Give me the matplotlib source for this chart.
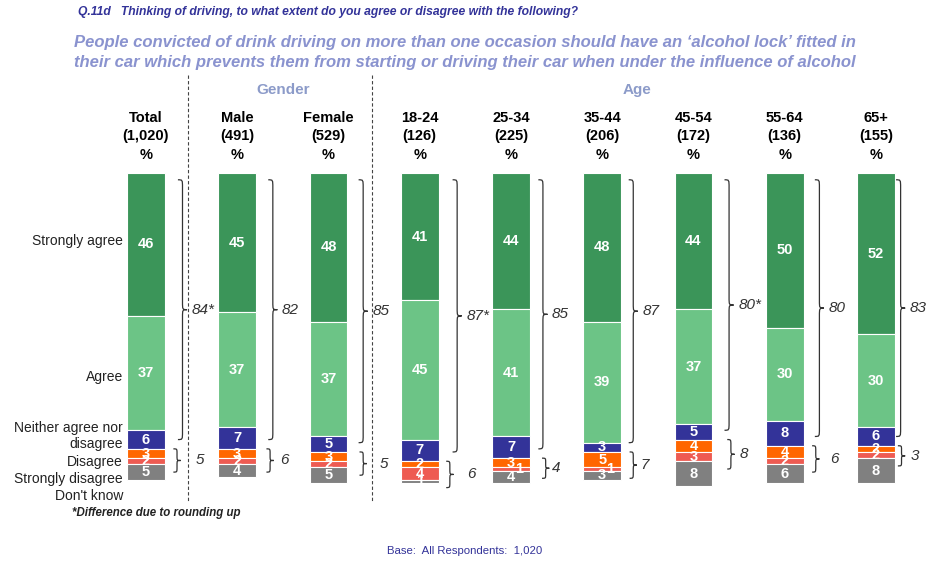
import matplotlib
matplotlib.use("Agg")
import matplotlib.pyplot as plt
from matplotlib.path import Path
from matplotlib.patches import PathPatch

plt.rcParams['font.family'] = ['Liberation Sans', 'DejaVu Sans']

groups = ['Total', 'Male', 'Female', '18-24', '25-34', '35-44', '45-54', '55-64', '65+']
bases = ['(1,020)', '(491)', '(529)', '(126)', '(225)', '(206)', '(172)', '(136)', '(155)']
categories = ['Strongly agree', 'Agree', 'Neither agree nor disagree',
              'Disagree', 'Strongly disagree', "Don't know"]

strongly_agree = [46, 45, 48, 41, 44, 48, 44, 50, 52]
agree = [37, 37, 37, 45, 41, 39, 37, 30, 30]
neither = [6, 7, 5, 7, 7, 3, 5, 8, 6]
disagree = [3, 3, 3, 2, 3, 5, 4, 4, 2]
strongly_disagree = [2, 2, 2, 4, 1, 1, 3, 2, 2]
dont_know = [5, 4, 5, 1, 4, 3, 8, 6, 8]

agree_net = ['84*', '82', '85', '87*', '85', '87', '80*', '80', '83']
disagree_net = ['5', '6', '5', '6', '4', '7', '8', '6', '3']

colors = ['#3b9559', '#6cc486', '#333399', '#ff6600', '#ee5b52', '#808080']
series = [strongly_agree, agree, neither, disagree, strongly_disagree, dont_know]

# brace / label offsets from each bar centre (x units), as placed in the original slide
net_offset = [0.50, 0.49, 0.48, 0.51, 0.45, 0.44, 0.49, 0.48, 0.37]
dis_brace = [0.30, 0.32, 0.34, 0.29, 0.34, 0.30, 0.37, 0.30, 0.24]
dis_offset = [0.59, 0.52, 0.61, 0.57, 0.49, 0.47, 0.55, 0.54, 0.43]


def brace(ax, x0, y_top, y_bot, w, lw=0.9):
    ym = (y_top + y_bot) / 2
    h = w / 2
    c = min(2.5, (y_top - y_bot) / 5)
    verts = [(x0, y_top), (x0 + h, y_top), (x0 + h, y_top), (x0 + h, y_top - c),
             (x0 + h, ym + c),
             (x0 + h, ym), (x0 + h, ym), (x0 + w, ym),
             (x0 + h, ym), (x0 + h, ym), (x0 + h, ym - c),
             (x0 + h, y_bot + c),
             (x0 + h, y_bot), (x0 + h, y_bot), (x0, y_bot)]
    codes = [Path.MOVETO, Path.CURVE4, Path.CURVE4, Path.CURVE4,
             Path.LINETO,
             Path.CURVE4, Path.CURVE4, Path.CURVE4,
             Path.CURVE4, Path.CURVE4, Path.CURVE4,
             Path.LINETO,
             Path.CURVE4, Path.CURVE4, Path.CURVE4]
    ax.add_patch(PathPatch(Path(verts, codes), fill=False, lw=lw, color='#333333'))


fig = plt.figure(figsize=(9.3, 5.62), dpi=100)
ax = fig.add_axes([0, 0, 1, 1])
ax.set_xlim(-1.6, 8.592)
ax.set_ylim(-25.5, 155.8)
ax.axis('off')

bw = 0.416
for i in range(len(groups)):
    top = 100
    for s, col in zip(series, colors):
        v = s[i]
        ax.bar(i, -v, bottom=top, width=bw, color=col, edgecolor='white', linewidth=0.8)
        dx = 0.09 if (v == 1 and i in (4, 5)) else 0
        ax.text(i + dx, top - v / 2, str(v), ha='center', va='center', color='white',
                fontsize=10.5, fontweight='bold')
        top -= v

    # agree net brace
    off = net_offset[i]
    y_bot = 100 - strongly_agree[i] - agree[i] - neither[i] + 3
    brace(ax, i + off - 0.15, 97.8, y_bot, 0.1)
    ax.text(i + off, (97.8 + y_bot) / 2, agree_net[i], ha='left', va='center',
            fontsize=11, style='italic', color='#333333')
    # disagree net brace
    d_top = 100 - strongly_agree[i] - agree[i] - neither[i]
    d_bot = d_top - disagree[i] - strongly_disagree[i] - 2.5
    brace(ax, i + dis_brace[i], d_top, d_bot, 0.08)
    ax.text(i + dis_offset[i], (d_top + d_bot) / 2, disagree_net[i], ha='center',
            va='center', fontsize=11, style='italic', color='#333333')

    ax.text(i, 117.7, groups[i], ha='center', va='center', fontsize=10.5, fontweight='bold')
    ax.text(i, 111.9, bases[i], ha='center', va='center', fontsize=10.5, fontweight='bold')
    ax.text(i, 105.8, '%', ha='center', va='center', fontsize=10.5, fontweight='bold')

for xd in (0.46, 2.48):
    ax.plot([xd, xd], [131.5, -6], ls=(0, (3, 2)), lw=0.8, color='#444444')

ax.text(1.5, 126.8, 'Gender', ha='center', va='center', fontsize=11,
        fontweight='bold', color='#8c9bc9')
ax.text(5.38, 126.8, 'Age', ha='center', va='center', fontsize=11,
        fontweight='bold', color='#8c9bc9')

# row labels
row_labels = [('Strongly agree', 241), ('Agree', 377), ('Neither agree nor', 428),
              ('disagree', 444), ('Disagree', 462), ('Strongly disagree', 479),
              ("Don't know", 496)]
for txt, py in row_labels:
    fig.text(123 / 930, 1 - py / 562, txt, ha='right', va='center', fontsize=10,
             color='#222222')

fig.text(78 / 930, 1 - 12 / 562,
         'Q.11d   Thinking of driving, to what extent do you agree or disagree with the following?',
         ha='left', va='center', fontsize=8.7, fontweight='bold', style='italic',
         color='#333399')
fig.text(465 / 930, 1 - 43 / 562,
         'People convicted of drink driving on more than one occasion should have an \u2018alcohol lock\u2019 fitted in',
         ha='center', va='center', fontsize=12, fontweight='bold', style='italic',
         color='#8a93cf')
fig.text(465 / 930, 1 - 62 / 562,
         'their car which prevents them from starting or driving their car when under the influence of alcohol',
         ha='center', va='center', fontsize=12, fontweight='bold', style='italic',
         color='#8a93cf')
fig.text(72 / 930, 1 - 513 / 562, '*Difference due to rounding up', ha='left', va='center',
         fontsize=8.3, fontweight='bold', style='italic', color='#222222')
fig.text(465 / 930, 1 - 551 / 562, 'Base:  All Respondents:  1,020', ha='center', va='center',
         fontsize=8.2, color='#333399')

fig.savefig('out.png', dpi=100)
